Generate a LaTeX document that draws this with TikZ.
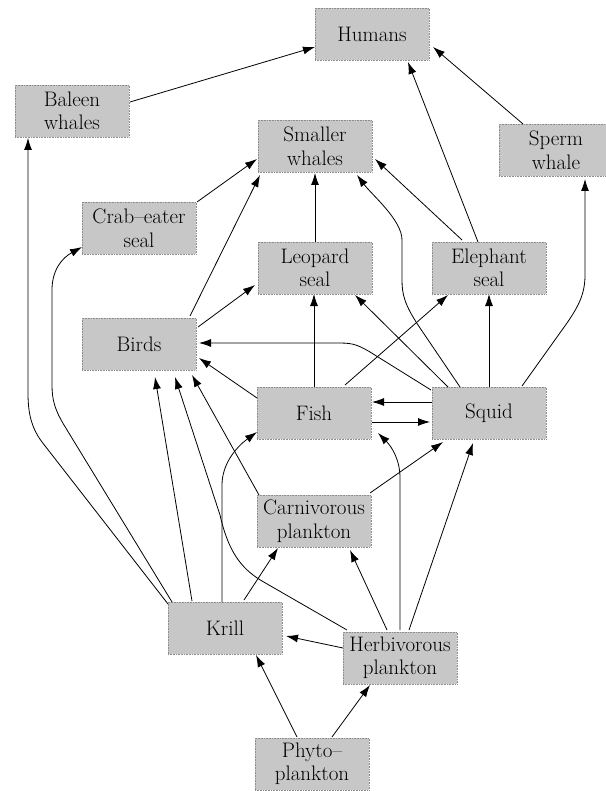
\documentclass[tikz,border=0pt]{standalone}
\usepackage{fontspec}
\usetikzlibrary{arrows.meta}
\begin{document}
\begin{tikzpicture}[x=1pt,y=-1pt,
  species/.style={fill=black!22,draw=black!45,densely dotted,line width=0.6pt,
    minimum width=114pt,minimum height=52pt,inner sep=0pt,align=center,
    font=\rmfamily\fontsize{21}{23.5}\selectfont},
  eat/.style={draw=black,line width=0.8pt,-{Latex[length=12pt,width=8pt]}}]
\fill[white] (0,0) rectangle (605,791);
\useasboundingbox (0,0) rectangle (605,791);
\node[species] (humans)   at (372,34)  {Humans};
\node[species] (baleen)   at (72,111)  {Baleen\\whales};
\node[species] (sperm)    at (556,150) {Sperm\\whale};
\node[species] (smaller)  at (315,146) {Smaller\\whales};
\node[species] (crab)     at (139,228) {Crab–eater\\seal};
\node[species] (leopard)  at (315,268) {Leopard\\seal};
\node[species] (elephant) at (489,268) {Elephant\\seal};
\node[species] (birds)    at (139,344) {Birds};
\node[species] (fish)     at (314,413) {Fish};
\node[species] (squid)    at (489,413) {Squid};
\node[species] (carn)     at (314,521) {Carnivorous\\plankton};
\node[species] (krill)    at (225,628) {Krill};
\node[species] (herb)     at (400,658) {Herbivorous\\plankton};
\node[species] (phyto)    at (312,764) {Phyto–\\plankton};
% top level
\draw[eat] ([shift={(58,-9)}]baleen.center) -- ([shift={(-57,13)}]humans.center);
\draw[eat] ([shift={(-11,-26)}]elephant.center) -- ([shift={(36,28)}]humans.center);
\draw[eat] ([shift={(-33,-26)}]sperm.center) -- ([shift={(61,13)}]humans.center);
% krill to baleen and crab-eater
\draw[eat] ([shift={(-57,-24)}]krill.center) -- (42,442) .. controls (30,426) and (28,410) .. (28,392) -- ([shift={(-44,27)}]baleen.center);
\draw[eat] ([shift={(-53,-26)}]krill.center) -- (64,425) .. controls (55,410) and (52,400) .. (52,385) -- (52,290) .. controls (52,270) and (62,258) .. ([shift={(-57,19)}]crab.center);
% smaller whales
\draw[eat] ([shift={(58,-26)}]crab.center) -- ([shift={(-58,13)}]smaller.center);
\draw[eat] ([shift={(51,-28)}]birds.center) -- ([shift={(-55,29)}]smaller.center);
\draw[eat] ([shift={(0,-26)}]leopard.center) -- ([shift={(0,27)}]smaller.center);
\draw[eat] ([shift={(-29,-26)}]squid.center) -- (418,325) .. controls (405,305) and (402,295) .. (402,280) -- (402,240) .. controls (402,220) and (372,195) .. ([shift={(42,29)}]smaller.center);
\draw[eat] ([shift={(-27,-28)}]elephant.center) -- ([shift={(60,13)}]smaller.center);
% sperm whale
\draw[eat] ([shift={(33,-27)}]squid.center) -- (562,330) .. controls (578,308) and (585,295) .. (585,275) -- ([shift={(29,29)}]sperm.center);
% seals
\draw[eat] ([shift={(59,-17)}]birds.center) -- ([shift={(-60,17)}]leopard.center);
\draw[eat] ([shift={(0,-26)}]fish.center) -- ([shift={(-1,26)}]leopard.center);
\draw[eat] ([shift={(-41,-26)}]squid.center) -- ([shift={(40,27)}]leopard.center);
\draw[eat] ([shift={(31,-28)}]fish.center) -- ([shift={(-41,27)}]elephant.center);
\draw[eat] ([shift={(0,-26)}]squid.center) -- ([shift={(0,26)}]elephant.center);
% birds
\draw[eat] ([shift={(-58,-23)}]squid.center) -- (370,352) .. controls (355,343) and (350,343) .. (335,343) -- ([shift={(60,-1)}]birds.center);
\draw[eat] ([shift={(-57,-15)}]fish.center) -- ([shift={(60,14)}]birds.center);
\draw[eat] ([shift={(-33,-27)}]krill.center) -- ([shift={(16,33)}]birds.center);
\draw[eat] ([shift={(-53,-28)}]herb.center) -- (262,581) .. controls (240,568) and (228,550) .. (220,515) -- ([shift={(36,33)}]birds.center);
\draw[eat] ([shift={(-55,-26)}]carn.center) -- ([shift={(53,31)}]birds.center);
% fish and squid
\draw[eat] ([shift={(-57,-11)}]squid.center) -- ([shift={(58,-11)}]fish.center);
\draw[eat] ([shift={(58,9)}]fish.center) -- ([shift={(-59,9)}]squid.center);
\draw[eat] ([shift={(-3,-26)}]krill.center) -- (222,485) .. controls (222,465) and (235,448) .. ([shift={(-57,19)}]fish.center);
\draw[eat] ([shift={(56,-28)}]carn.center) -- ([shift={(-46,29)}]squid.center);
\draw[eat] ([shift={(0,-28)}]herb.center) -- (400,478) .. controls (400,460) and (392,447) .. ([shift={(64,20)}]fish.center);
\draw[eat] ([shift={(9,-28)}]herb.center) -- ([shift={(-16,30)}]squid.center);
% plankton
\draw[eat] ([shift={(-13,-28)}]herb.center) -- ([shift={(36,29)}]carn.center);
\draw[eat] ([shift={(19,-28)}]krill.center) -- ([shift={(-36,27)}]carn.center);
\draw[eat] ([shift={(-57,-10)}]herb.center) -- ([shift={(61,8)}]krill.center);
\draw[eat] ([shift={(-15,-27)}]phyto.center) -- ([shift={(31,27)}]krill.center);
\draw[eat] ([shift={(20,-27)}]phyto.center) -- ([shift={(-30,27)}]herb.center);
\end{tikzpicture}
\end{document}
